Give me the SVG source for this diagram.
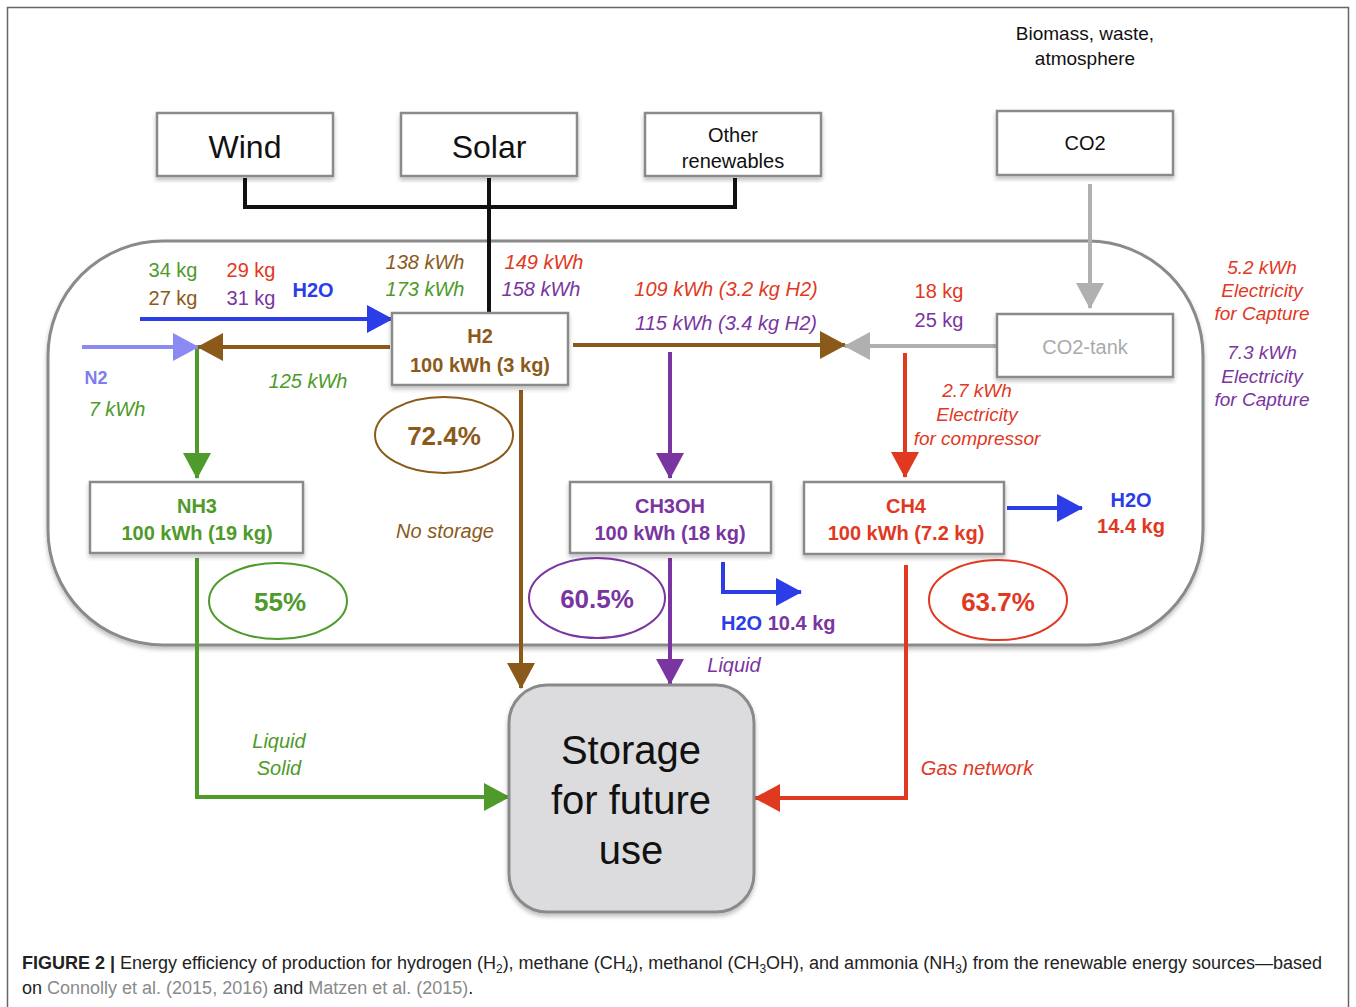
<svg xmlns="http://www.w3.org/2000/svg" width="1356" height="1007" viewBox="0 0 1356 1007">
<style>
text{font-family:"Liberation Sans",Arial,sans-serif;}
.box{fill:#fff;stroke:#8a8a8a;stroke-width:2.5;}
.lbl{font-size:20px;}
.it{font-style:italic;font-size:20px;}
.b{font-weight:bold;font-size:20px;}
.br{fill:#8b5a1b;} .gr{fill:#4e9a2a;} .rd{fill:#e0391f;} .pu{fill:#7a35a0;} .bl{fill:#2b3de6;} .lb{fill:#7d7df0;} .gy{fill:#aaaaaa;}
.ln{fill:none;stroke-width:4;stroke-linejoin:miter;}
.pct{font-weight:bold;font-size:26px;text-anchor:middle;}
.mid{text-anchor:middle;}
</style>
<defs>
<filter id="sh" x="-5%" y="-5%" width="110%" height="115%"><feDropShadow dx="0" dy="3" stdDeviation="2" flood-color="#000" flood-opacity="0.25"/></filter>
<marker id="aBr" markerUnits="userSpaceOnUse" markerWidth="26" markerHeight="28" refX="25" refY="14" orient="auto"><path d="M0,0 L26,14 L0,28 z" fill="#8b5a1b"/></marker>
<marker id="aGr" markerUnits="userSpaceOnUse" markerWidth="26" markerHeight="28" refX="25" refY="14" orient="auto"><path d="M0,0 L26,14 L0,28 z" fill="#4e9a2a"/></marker>
<marker id="aRd" markerUnits="userSpaceOnUse" markerWidth="26" markerHeight="28" refX="25" refY="14" orient="auto"><path d="M0,0 L26,14 L0,28 z" fill="#e0391f"/></marker>
<marker id="aPu" markerUnits="userSpaceOnUse" markerWidth="26" markerHeight="28" refX="25" refY="14" orient="auto"><path d="M0,0 L26,14 L0,28 z" fill="#7a35a0"/></marker>
<marker id="aBl" markerUnits="userSpaceOnUse" markerWidth="26" markerHeight="28" refX="25" refY="14" orient="auto"><path d="M0,0 L26,14 L0,28 z" fill="#2b3de6"/></marker>
<marker id="aLb" markerUnits="userSpaceOnUse" markerWidth="26" markerHeight="28" refX="25" refY="14" orient="auto"><path d="M0,0 L26,14 L0,28 z" fill="#8a8af2"/></marker>
<marker id="aGy" markerUnits="userSpaceOnUse" markerWidth="26" markerHeight="28" refX="25" refY="14" orient="auto"><path d="M0,0 L26,14 L0,28 z" fill="#b0b0b0"/></marker>
</defs>
<rect x="0" y="0" width="1356" height="1007" fill="#fff"/>
<rect x="7.5" y="7.5" width="1341" height="1010" fill="none" stroke="#666" stroke-width="1.5"/>

<!-- container -->
<rect id="container" x="48" y="241" width="1155" height="404" rx="115" ry="115" fill="#fff" stroke="#8a8a8a" stroke-width="3" filter="url(#sh)"/>

<!-- connectors -->
<g id="connectors">
<path class="ln" stroke="#111" d="M245,178 V207 H735 V178"/>
<path class="ln" stroke="#111" d="M489,178 V313"/>
<path class="ln" stroke="#b0b0b0" d="M1090,184 V308" marker-end="url(#aGy)"/>
<path class="ln" stroke="#2b3de6" d="M140,319 H392" marker-end="url(#aBl)"/>
<path class="ln" stroke="#8a8af2" d="M82,347 H198" marker-end="url(#aLb)"/>
<path class="ln" stroke="#8b5a1b" d="M390,347 H198" marker-end="url(#aBr)"/>
<path class="ln" stroke="#4e9a2a" d="M197,349 V478" marker-end="url(#aGr)"/>
<path class="ln" stroke="#8b5a1b" d="M573,345 H845" marker-end="url(#aBr)"/>
<path class="ln" stroke="#b0b0b0" d="M997,346 H845" marker-end="url(#aGy)"/>
<path class="ln" stroke="#7a35a0" d="M670,352 V478" marker-end="url(#aPu)"/>
<path class="ln" stroke="#e0391f" d="M905,353 V477" marker-end="url(#aRd)"/>
<path class="ln" stroke="#8b5a1b" d="M521,390 V688" marker-end="url(#aBr)"/>
<path class="ln" stroke="#4e9a2a" d="M197,558 V797 H509" marker-end="url(#aGr)"/>
<path class="ln" stroke="#7a35a0" d="M670,558 V684" marker-end="url(#aPu)"/>
<path class="ln" stroke="#2b3de6" d="M723,562 V592 H801" marker-end="url(#aBl)"/>
<path class="ln" stroke="#2b3de6" d="M1007,508 H1082" marker-end="url(#aBl)"/>
<path class="ln" stroke="#e0391f" d="M906,565 V798 H755" marker-end="url(#aRd)"/>
</g>

<!-- top nodes -->
<g id="wind"><rect class="box" x="157" y="113" width="176" height="63" filter="url(#sh)"/><text x="245" y="158" font-size="32" class="mid" fill="#111">Wind</text></g>
<g id="solar"><rect class="box" x="401" y="113" width="176" height="63" filter="url(#sh)"/><text x="489" y="158" font-size="32" class="mid" fill="#111">Solar</text></g>
<g id="other"><rect class="box" x="645" y="113" width="176" height="63" filter="url(#sh)"/><text x="733" y="142" font-size="20" class="mid" fill="#111">Other</text><text x="733" y="168" font-size="20" class="mid" fill="#111">renewables</text></g>
<g id="co2"><rect class="box" x="997" y="111" width="176" height="64" filter="url(#sh)"/><text x="1085" y="150" font-size="20" class="mid" fill="#111">CO2</text></g>
<g id="biomass"><text x="1085" y="40" font-size="19" class="mid" fill="#111">Biomass, waste,</text><text x="1085" y="65" font-size="19" class="mid" fill="#111">atmosphere</text></g>

<!-- H2 -->
<g id="h2"><rect class="box" x="392" y="313" width="176" height="72" filter="url(#sh)"/><text x="480" y="343" class="b br mid">H2</text><text x="480" y="372" class="b br mid">100 kWh (3 kg)</text></g>
<g id="co2tank"><rect class="box" x="997" y="314" width="176" height="63" filter="url(#sh)"/><text x="1085" y="354" font-size="20" class="mid gy">CO2-tank</text></g>
<g id="nh3"><rect class="box" x="90" y="482" width="213" height="71" filter="url(#sh)"/><text x="197" y="513" class="b gr mid">NH3</text><text x="197" y="540" class="b gr mid">100 kWh (19 kg)</text></g>
<g id="ch3oh"><rect class="box" x="570" y="482" width="201" height="71" filter="url(#sh)"/><text x="670" y="513" class="b pu mid">CH3OH</text><text x="670" y="540" class="b pu mid">100 kWh (18 kg)</text></g>
<g id="ch4"><rect class="box" x="804" y="482" width="200" height="72" filter="url(#sh)"/><text x="906" y="513" class="b rd mid">CH4</text><text x="906" y="540" class="b rd mid">100 kWh (7.2 kg)</text></g>
<g id="storage"><rect x="509" y="685" width="245" height="227" rx="38" ry="38" fill="#dcdcde" stroke="#8a8a8a" stroke-width="3" filter="url(#sh)"/><text x="631" y="764" font-size="40" class="mid" fill="#111">Storage</text><text x="631" y="814" font-size="40" class="mid" fill="#111">for future</text><text x="631" y="864" font-size="40" class="mid" fill="#111">use</text></g>

<!-- efficiency ellipses -->
<g id="eff-h2"><ellipse cx="444" cy="435" rx="69" ry="38" fill="none" stroke="#8b5a1b" stroke-width="2"/><text x="444" y="445" class="pct br">72.4%</text></g>
<g id="eff-nh3"><ellipse cx="278" cy="601" rx="69" ry="38" fill="none" stroke="#4e9a2a" stroke-width="2"/><text x="280" y="611" class="pct gr">55%</text></g>
<g id="eff-ch3oh"><ellipse cx="597" cy="598" rx="68" ry="40" fill="none" stroke="#7a35a0" stroke-width="2"/><text x="597" y="608" class="pct pu">60.5%</text></g>
<g id="eff-ch4"><ellipse cx="998" cy="600" rx="69" ry="40" fill="none" stroke="#e0391f" stroke-width="2"/><text x="998" y="611" class="pct rd">63.7%</text></g>

<!-- labels -->
<g id="labels">
<text x="173" y="277" class="lbl gr mid">34 kg</text>
<text x="251" y="277" class="lbl rd mid">29 kg</text>
<text x="173" y="305" class="lbl br mid">27 kg</text>
<text x="251" y="305" class="lbl pu mid">31 kg</text>
<text x="313" y="297" class="b bl mid">H2O</text>
<text x="96" y="384" font-size="18" font-weight="bold" class="lb mid">N2</text>
<text x="117" y="416" class="it gr mid">7 kWh</text>
<text x="308" y="388" class="it gr mid">125 kWh</text>
<text x="425" y="269" class="it br mid">138 kWh</text>
<text x="425" y="296" class="it gr mid">173 kWh</text>
<text x="544" y="269" class="it rd mid">149 kWh</text>
<text x="541" y="296" class="it pu mid">158 kWh</text>
<text x="726" y="296" class="it rd mid">109 kWh (3.2 kg H2)</text>
<text x="726" y="330" class="it pu mid">115 kWh (3.4 kg H2)</text>
<text x="939" y="298" class="lbl rd mid">18 kg</text>
<text x="939" y="327" class="lbl pu mid">25 kg</text>
<text x="977" y="397" font-size="19" font-style="italic" class="rd mid">2.7 kWh</text>
<text x="977" y="421" font-size="19" font-style="italic" class="rd mid">Electricity</text>
<text x="977" y="445" font-size="19" font-style="italic" class="rd mid">for compressor</text>
<text x="1262" y="274" font-size="19" font-style="italic" class="rd mid">5.2 kWh</text>
<text x="1262" y="297" font-size="19" font-style="italic" class="rd mid">Electricity</text>
<text x="1262" y="320" font-size="19" font-style="italic" class="rd mid">for Capture</text>
<text x="1262" y="359" font-size="19" font-style="italic" class="pu mid">7.3 kWh</text>
<text x="1262" y="383" font-size="19" font-style="italic" class="pu mid">Electricity</text>
<text x="1262" y="406" font-size="19" font-style="italic" class="pu mid">for Capture</text>
<text x="445" y="538" class="it br mid">No storage</text>
<text x="1131" y="507" class="b bl mid">H2O</text>
<text x="1131" y="533" class="b rd mid">14.4 kg</text>
<text x="721" y="630" class="b"><tspan class="bl">H2O</tspan><tspan class="pu"> 10.4 kg</tspan></text>
<text x="734" y="672" class="it pu mid">Liquid</text>
<text x="279" y="748" class="it gr mid">Liquid</text>
<text x="279" y="775" class="it gr mid">Solid</text>
<text x="977" y="775" class="it rd mid">Gas network</text>
</g>

<!-- caption -->
<g id="caption" font-size="18" fill="#222">
<text x="22" y="969"><tspan font-weight="bold">FIGURE 2 |</tspan> Energy efficiency of production for hydrogen (H<tspan font-size="12" dy="4">2</tspan><tspan dy="-4">), methane (CH</tspan><tspan font-size="12" dy="4">4</tspan><tspan dy="-4">), methanol (CH</tspan><tspan font-size="12" dy="4">3</tspan><tspan dy="-4">OH), and ammonia (NH</tspan><tspan font-size="12" dy="4">3</tspan><tspan dy="-4">) from the renewable energy sources—based</tspan></text>
<text x="22" y="994">on <tspan fill="#8a8a8a">Connolly et al. (2015, 2016)</tspan> and <tspan fill="#8a8a8a">Matzen et al. (2015)</tspan>.</text>
</g>
</svg>
